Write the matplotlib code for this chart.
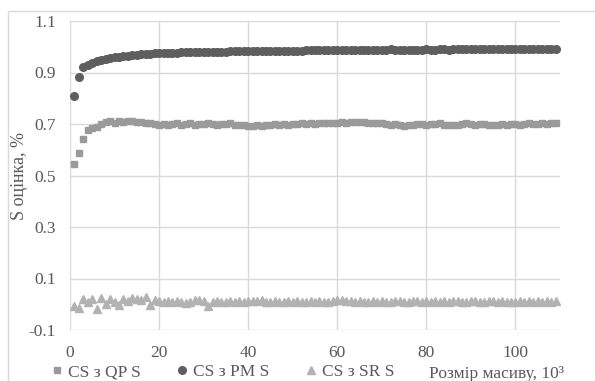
import numpy as np
import matplotlib.pyplot as plt
from matplotlib.lines import Line2D
from matplotlib.patches import Rectangle

# DATA
sizes = list(range(1, 110))  # array size, 10^3

qp_s = [0.545, 0.587, 0.642, 0.678, 0.683, 0.688, 0.700, 0.707, 0.710, 0.705,
        0.711, 0.708, 0.712, 0.710, 0.706, 0.709, 0.705, 0.702, 0.700, 0.698,
        0.701, 0.697, 0.699, 0.702, 0.696, 0.700, 0.703, 0.698, 0.701, 0.699,
        0.703, 0.700, 0.697, 0.701, 0.699, 0.702, 0.698, 0.695, 0.697, 0.694,
        0.692, 0.695, 0.693, 0.697, 0.696, 0.699, 0.697, 0.700, 0.698, 0.701,
        0.699, 0.702, 0.700, 0.703, 0.701, 0.702, 0.704, 0.703, 0.705, 0.704,
        0.706, 0.705, 0.707, 0.706, 0.708, 0.706, 0.705, 0.703, 0.704, 0.702,
        0.700, 0.698, 0.699, 0.696, 0.693, 0.695, 0.697, 0.699, 0.700, 0.698,
        0.701, 0.699, 0.702, 0.698, 0.697, 0.695, 0.698, 0.700, 0.702, 0.699,
        0.697, 0.699, 0.701, 0.698, 0.696, 0.698, 0.700, 0.697, 0.699, 0.701,
        0.698, 0.700, 0.702, 0.699, 0.701, 0.703, 0.700, 0.702, 0.703]

pm_s = [0.810, 0.884, 0.920, 0.930, 0.937, 0.943, 0.948, 0.952, 0.956, 0.959,
        0.962, 0.964, 0.966, 0.968, 0.969, 0.971, 0.972, 0.973, 0.974, 0.975,
        0.976, 0.976, 0.977, 0.977, 0.978, 0.978, 0.978, 0.979, 0.979, 0.980,
        0.980, 0.980, 0.981, 0.981, 0.981, 0.982, 0.982, 0.982, 0.982, 0.983,
        0.983, 0.983, 0.983, 0.984, 0.984, 0.984, 0.984, 0.985, 0.985, 0.985,
        0.985, 0.985, 0.986, 0.986, 0.986, 0.986, 0.986, 0.986, 0.987, 0.987,
        0.987, 0.987, 0.987, 0.987, 0.988, 0.987, 0.989, 0.988, 0.987, 0.988,
        0.989, 0.990, 0.988, 0.987, 0.988, 0.989, 0.988, 0.989, 0.989, 0.990,
        0.989, 0.989, 0.990, 0.990, 0.989, 0.990, 0.990, 0.990, 0.991, 0.990,
        0.990, 0.990, 0.991, 0.990, 0.991, 0.991, 0.990, 0.991, 0.991, 0.991,
        0.991, 0.991, 0.991, 0.992, 0.991, 0.991, 0.991, 0.992, 0.991]

sr_s = [-0.007, -0.015, 0.020, 0.010, 0.020, -0.020, 0.025, 0.000, 0.020, 0.010,
        -0.003, 0.020, 0.012, 0.025, 0.020, 0.018, 0.028, -0.003, 0.015, 0.012,
        0.010, 0.012, 0.010, 0.013, 0.008, 0.005, 0.010, 0.015, 0.018, 0.012,
        -0.005, 0.008, 0.012, 0.010, 0.008, 0.012, 0.010, 0.013, 0.010, 0.011,
        0.012, 0.013, 0.015, 0.010, 0.008, 0.012, 0.010, 0.009, 0.011, 0.010,
        0.012, 0.010, 0.009, 0.011, 0.010, 0.012, 0.008, 0.010, 0.011, 0.015,
        0.018, 0.014, 0.012, 0.010, 0.011, 0.009, 0.010, 0.012, 0.010, 0.011,
        0.009, 0.010, 0.012, 0.011, 0.010, 0.009, 0.011, 0.013, 0.010, 0.012,
        0.010, 0.011, 0.009, 0.012, 0.010, 0.011, 0.012, 0.009, 0.010, 0.011,
        0.012, 0.010, 0.009, 0.011, 0.012, 0.010, 0.011, 0.009, 0.010, 0.008,
        0.011, 0.010, 0.012, 0.009, 0.011, 0.010, 0.012, 0.010, 0.013]

labels = ["CS з QP S", "CS з PM S", "CS з SR S"]
x_ticks = [0, 20, 40, 60, 80, 100]
y_ticks = [-0.1, 0.1, 0.3, 0.5, 0.7, 0.9, 1.1]

c_qp = "#9a9a9a"
c_pm = "#5e5e5e"
c_sr = "#b2b2b2"
txt = "#595959"
grid_c = "#d9d9d9"
fs = 12.5

plt.rcParams['font.family'] = ['Liberation Serif', 'DejaVu Serif']

fig = plt.figure(figsize=(5.95, 3.81), dpi=100)
# outer chart border
fig.patches.append(Rectangle((8 / 595, -0.1), 1.0, 1 - 11 / 381 + 0.1,
                             transform=fig.transFigure, fill=False,
                             edgecolor=grid_c, linewidth=1))

ax = fig.add_axes([70 / 595, 1 - 330 / 381, 490 / 595, 309 / 381])

ax.plot(sizes, sr_s, linestyle='none', marker='^', markersize=5.5, color=c_sr)
ax.plot(sizes, qp_s, linestyle='none', marker='s', markersize=5, color=c_qp)
ax.plot(sizes, pm_s, linestyle='none', marker='o', markersize=5.5, color=c_pm)

ax.set_xlim(0, 110)
ax.set_ylim(-0.1, 1.1)
ax.set_xticks(x_ticks)
ax.set_yticks(y_ticks)
ax.set_yticklabels([f"{v:g}" for v in y_ticks])
ax.grid(True, color=grid_c, linewidth=1)
ax.set_axisbelow(True)
for s in ax.spines.values():
    s.set_visible(False)
ax.tick_params(axis='y', length=0, labelsize=fs, colors=txt, pad=10)
ax.tick_params(axis='x', length=0, labelsize=fs, colors=txt, pad=11)

ax.set_ylabel("S оцінка, %", fontsize=13, color=txt)
ax.yaxis.set_label_coords(-0.085, 0.5)
ax.set_xlabel("Розмір масиву, 10³", fontsize=fs, color=txt)
ax.xaxis.set_label_coords(0.87, -0.115)

handles = [Line2D([], [], linestyle='none', marker='s', markersize=5, color=c_qp),
           Line2D([], [], linestyle='none', marker='o', markersize=5.5, color=c_pm),
           Line2D([], [], linestyle='none', marker='^', markersize=5.5, color=c_sr)]
leg = fig.legend(handles, labels, loc='center left', bbox_to_anchor=(52 / 595, 1 - 372 / 381),
                 ncol=3, frameon=False, fontsize=fs, handlelength=0.6, handletextpad=0.35,
                 columnspacing=2.05, borderaxespad=0, borderpad=0)
for t in leg.get_texts():
    t.set_color(txt)

fig.savefig("out.png", dpi=100)
